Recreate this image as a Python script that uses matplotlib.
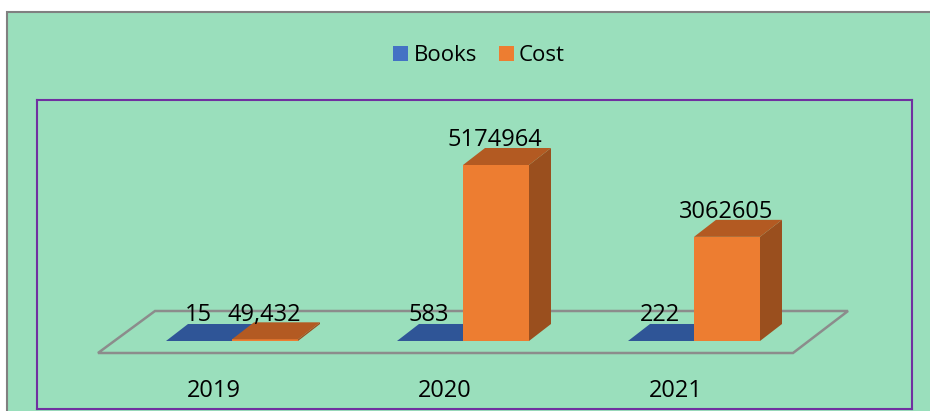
import matplotlib
matplotlib.use('Agg')
import matplotlib.pyplot as plt
from matplotlib.patches import Rectangle, Polygon
import numpy as np

years = ["2019", "2020", "2021"]
books = [15, 583, 222]
cost = [49432, 5174964, 3062605]
book_labels = ["15", "583", "222"]
cost_labels = ["49,432", "5174964", "3062605"]

plt.rcParams['font.family'] = ['Open Sans', 'DejaVu Sans']

green = '#9ADFBC'
blue_front, blue_top, blue_side = '#4472C4', '#2F5597', '#2A4C88'
orange_front, orange_top, orange_side = '#ED7D31', '#B35A22', '#9A4F1E'

fig = plt.figure(figsize=(9.3, 4.11), dpi=100)
fig.patch.set_facecolor('white')
# chart area (green) with grey border at top/left
fig.patches.append(Rectangle((7 / 930, -0.05), 1, 1.05 - 12 / 411, transform=fig.transFigure,
                             facecolor=green, edgecolor='#808080', lw=1.5, zorder=-5))

ax = fig.add_axes([37 / 930, 2 / 411, 875 / 930, 309 / 411])
ax.set_zorder(2)
ax.set_facecolor(green)
for s in ax.spines.values():
    s.set_color('#7030A0')
    s.set_linewidth(1.5)
ax.set_xticks([])
ax.set_yticks([])

px_val = 5174964 / 176.0      # value per pixel
ax.set_xlim(-195 / 231, 680 / 231)
ax.set_ylim(-68 * px_val, 241 * px_val)

w = 66 / 231                  # bar width in category units
ddx = 22 / 231                # depth offset x
ddy = 17 * px_val             # depth offset y

# floor
floor = np.array([[-134 / 231, -12 * px_val], [561 / 231, -12 * px_val],
                  [616 / 231, 30 * px_val], [-77 / 231, 30 * px_val]])
ax.add_patch(Polygon(floor, closed=True, fill=False, edgecolor='#8C8C8C', lw=1.8, zorder=1))

x = np.arange(len(years))


def box(x0, h, front, top, side, z):
    ax.bar(x0, h, width=w, align='edge', color=front, zorder=z)
    ax.add_patch(Polygon([[x0, h], [x0 + w, h], [x0 + w + ddx, h + ddy], [x0 + ddx, h + ddy]],
                         closed=True, facecolor=top, edgecolor='none', zorder=z))
    ax.add_patch(Polygon([[x0 + w, 0], [x0 + w + ddx, ddy], [x0 + w + ddx, h + ddy], [x0 + w, h]],
                         closed=True, facecolor=side, edgecolor='none', zorder=z - 0.5))


for i in x:
    box(i - w, books[i], blue_front, blue_top, blue_side, 3)
    box(i, cost[i], orange_front, orange_top, orange_side, 4)
    ax.annotate(book_labels[i], (i - w / 2 - 1 / 231, books[i] + ddy), xytext=(0, 2.2),
                textcoords='offset points', ha='center', va='baseline', fontsize=17, zorder=6)
    ax.annotate(cost_labels[i], (i + w / 2 - 1 / 231, cost[i] + ddy), xytext=(0, 1.1),
                textcoords='offset points', ha='center', va='baseline', fontsize=17, zorder=6)
    ax.text(i - 18 / 231, -55.7 * px_val, years[i], ha='center', va='baseline', fontsize=17)

# legend
fig.patches.append(Rectangle((393 / 930, 1 - 61 / 411), 15 / 930, 14.5 / 411,
                             transform=fig.transFigure, facecolor=blue_front, edgecolor='none'))
fig.text(414 / 930, 1 - 61 / 411, "Books", ha='left', va='baseline', fontsize=16)
fig.patches.append(Rectangle((499 / 930, 1 - 61 / 411), 15 / 930, 14.5 / 411,
                             transform=fig.transFigure, facecolor=orange_front, edgecolor='none'))
fig.text(519 / 930, 1 - 61 / 411, "Cost", ha='left', va='baseline', fontsize=16)

plt.savefig('out.png', dpi=100, facecolor=fig.get_facecolor())
